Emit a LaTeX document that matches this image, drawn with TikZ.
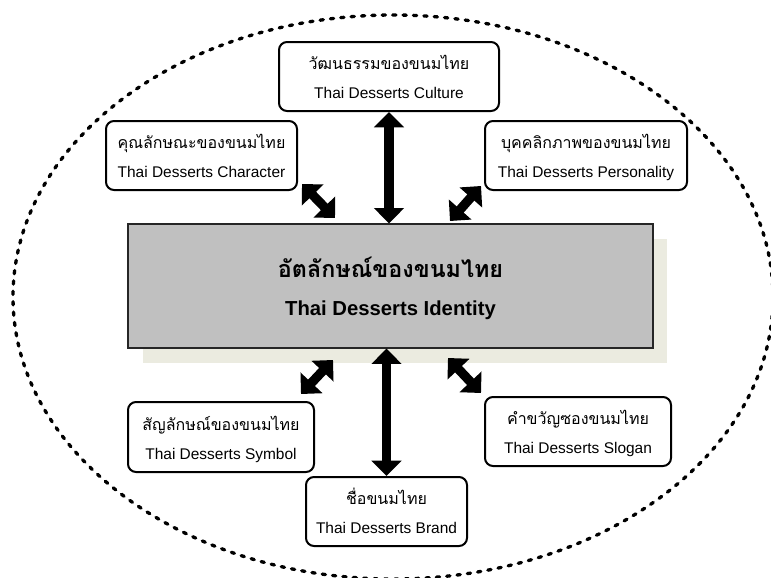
\documentclass[tikz,border=0pt]{standalone}
\usepackage{fontspec}
\setmainfont{Liberation Sans}
\newfontfamily\thaifont[Script=Thai]{Loma}
\usetikzlibrary{arrows.meta}
\definecolor{shadowc}{RGB}{235,235,224}
\definecolor{mainfill}{RGB}{192,192,192}
\begin{document}
\begin{tikzpicture}[x=0.75pt,y=-0.75pt,
  box/.style={draw, line width=1.5pt, rounded corners=6pt, fill=white, inner sep=0pt, minimum height=51.75pt},
  thtxt/.style={font=\thaifont\fontsize{12}{14}\selectfont, anchor=base, inner sep=0pt},
  entxt/.style={font=\fontsize{11.6}{14}\selectfont, anchor=base, inner sep=0pt},
  dbl/.style={{Triangle[width=22pt,length=11.5pt]}-{Triangle[width=22pt,length=11.5pt]}, line width=7pt},
  oval/.style={line width=2.5pt, line cap=round, dash pattern=on 2.4pt off 5.4pt},
]
\clip (0,0) rectangle (771,578);
\fill[white] (0,0) rectangle (771,578);
% dashed ellipse
\draw[oval] (393,297) ellipse [x radius=285pt, y radius=211.5pt];
% main box with shadow
\fill[shadowc] (143,239) rectangle (667,363);
\node[draw=black!85, line width=0.9pt, fill=mainfill, minimum width=393.75pt, minimum height=93pt, inner sep=0pt] (main) at (390.5,286) {};
\node[thtxt, font=\thaifont\bfseries\fontsize{17.5}{20}\selectfont] (mainT) at ([yshift=6.75pt]main.center) {อัตลักษณ์ของขนมไทย};
\node[entxt, font=\bfseries\fontsize{15.2}{18}\selectfont] (mainE) at ([yshift=-21.75pt]main.center) {Thai Desserts Identity};
% surrounding boxes
\node[box, minimum width=165pt] (cult) at (389,76.5) {};
\node[thtxt] (cultT) at ([yshift=5.25pt]cult.center) {วัฒนธรรมของขนมไทย};
\node[entxt] (cultE) at ([yshift=-16.5pt]cult.center) {Thai Desserts Culture};

\node[box, minimum width=143.25pt] (char) at (201.5,155.5) {};
\node[thtxt] (charT) at ([yshift=5.25pt]char.center) {คุณลักษณะของขนมไทย};
\node[entxt] (charE) at ([yshift=-16.5pt]char.center) {Thai Desserts Character};

\node[box, minimum width=151.5pt] (pers) at (586,155.5) {};
\node[thtxt] (persT) at ([yshift=5.25pt]pers.center) {บุคคลิกภาพของขนมไทย};
\node[entxt] (persE) at ([yshift=-16.5pt]pers.center) {Thai Desserts Personality};

\node[box, minimum width=139.5pt, minimum height=52.5pt] (sym) at (221,437) {};
\node[thtxt] (symT) at ([yshift=5.25pt]sym.center) {สัญลักษณ์ของขนมไทย};
\node[entxt] (symE) at ([yshift=-16.5pt]sym.center) {Thai Desserts Symbol};

\node[box, minimum width=139.5pt] (slog) at (578,431.5) {};
\node[thtxt] (slogT) at ([yshift=5.25pt]slog.center) {คำขวัญซองขนมไทย};
\node[entxt] (slogE) at ([yshift=-16.5pt]slog.center) {Thai Desserts Slogan};

\node[box, minimum width=120.75pt] (brand) at (386.5,511.5) {};
\node[thtxt] (brandT) at ([yshift=5.25pt]brand.center) {ชื่อขนมไทย};
\node[entxt] (brandE) at ([yshift=-16.5pt]brand.center) {Thai Desserts Brand};

% arrows
\draw[dbl] (cult.south) -- (cult.south |- main.north);
\draw[dbl] (brand.north |- main.south) -- (brand.north);
\coordinate (ulA) at (302,184); \coordinate (ulB) at (335,218);
\coordinate (urA) at (481,186); \coordinate (urB) at (450,221);
\coordinate (llA) at (333,360); \coordinate (llB) at (301,394);
\coordinate (lrA) at (448,358); \coordinate (lrB) at (481,393);
\draw[dbl] (ulA) -- (ulB);
\draw[dbl] (urA) -- (urB);
\draw[dbl] (llA) -- (llB);
\draw[dbl] (lrA) -- (lrB);
\end{tikzpicture}
\end{document}
